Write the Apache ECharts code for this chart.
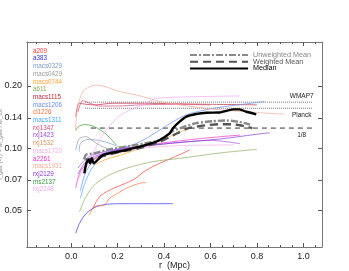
<!DOCTYPE html>
<html><head><meta charset="utf-8">
<script src="https://cdn.jsdelivr.net/npm/echarts@6/dist/echarts.min.js"></script>
<style>html,body{margin:0;padding:0;background:#fff}#c{width:349px;height:271px}</style>
</head><body><div id="c"></div>
<script>
// ---- data ----
const clusterNames = ['a209','a383','macs0329','macs0429','macs0744','a611','macs1115','macs1206','cl1226','macs1311','rxj1347','rxj1423','rxj1532','macs1720','a2261','macs1931','rxj2129','ms2137','rxj2248'];
const clusterColors = ['#ff3b3b','#3030e8','#7a9cc8','#9a9a9a','#ffa430','#8cae5a','#b8283c','#6a8cf0','#ff7040','#48a8ff','#d84a78','#a048e0','#d89858','#f4aee6','#f030c8','#f4aa98','#8838d8','#3a9a3a','#f0a8f0'];
// [r (Mpc), f_gas]
const a209     = [[0.093,0.051],[0.122,0.058],[0.16,0.062],[0.20,0.065],[0.266,0.070],[0.323,0.078],[0.381,0.0843],[0.44,0.090],[0.51,0.0978]];
const a383     = [[0.02,0.0386],[0.036,0.0431],[0.065,0.0482],[0.108,0.0519],[0.165,0.0535],[0.237,0.0537],[0.438,0.0537]];
const macs0329 = [[0.035,0.096],[0.04,0.105],[0.07,0.110],[0.12,0.109],[0.17,0.105],[0.21,0.101]];
const macs0429 = [[0.02,0.098],[0.035,0.111],[0.065,0.1135],[0.09,0.109],[0.12,0.1035],[0.17,0.098]];
const macs0744 = [[0.10,0.083],[0.15,0.088],[0.22,0.093],[0.30,0.100],[0.38,0.108],[0.44,0.116],[0.50,0.124]];
const a611     = [[0.036,0.049],[0.057,0.056],[0.093,0.065],[0.151,0.0726],[0.237,0.0797],[0.352,0.0859],[0.467,0.0891],[0.64,0.0946],[0.80,0.0986]];
const macs1115 = [[0.02,0.142],[0.035,0.165],[0.065,0.163],[0.10,0.162],[0.18,0.165],[0.30,0.165],[0.45,0.164],[0.60,0.163],[0.80,0.162]];
const macs1206 = [[0.04,0.062],[0.06,0.075],[0.10,0.088],[0.15,0.095],[0.22,0.100],[0.295,0.107],[0.37,0.120],[0.438,0.134],[0.496,0.145],[0.60,0.155],[0.70,0.161],[0.833,0.168]];
const cl1226   = [[0.079,0.0473],[0.10,0.0519],[0.144,0.0529],[0.165,0.057],[0.20,0.0603],[0.237,0.0638],[0.294,0.0674],[0.323,0.068]];
const macs1311 = [[0.04,0.057],[0.06,0.068],[0.09,0.080],[0.13,0.090],[0.18,0.097],[0.24,0.102]];
const rxj1347  = [[0.03,0.150],[0.05,0.170],[0.08,0.165],[0.12,0.160],[0.20,0.160],[0.30,0.162],[0.45,0.163],[0.60,0.162]];
const rxj1423  = [[0.03,0.080],[0.06,0.088],[0.10,0.093],[0.20,0.099],[0.30,0.102],[0.45,0.106],[0.60,0.109],[0.726,0.105]];
const rxj1532  = [[0.05,0.078],[0.08,0.086],[0.12,0.090],[0.18,0.094],[0.25,0.097]];
const macs1720 = [[0.03,0.070],[0.06,0.080],[0.10,0.087],[0.16,0.093],[0.25,0.098],[0.35,0.101],[0.50,0.103],[0.70,0.1035]];
const a2261    = [[0.02,0.064],[0.03,0.072],[0.05,0.080],[0.09,0.088],[0.15,0.094],[0.25,0.100],[0.40,0.106],[0.55,0.111],[0.726,0.1156]];
const macs1931 = [[0.019,0.122],[0.028,0.156],[0.05,0.188],[0.079,0.198],[0.108,0.202],[0.151,0.198],[0.208,0.188],[0.28,0.181],[0.338,0.174],[0.381,0.168],[0.467,0.162],[0.60,0.155],[0.75,0.150],[0.92,0.146]];
const rxj2129  = [[0.03,0.075],[0.06,0.085],[0.10,0.091],[0.20,0.098],[0.295,0.1015],[0.45,0.106],[0.64,0.1106],[0.797,0.1166],[0.855,0.1186]];
const ms2137   = [[0.02,0.122],[0.035,0.128],[0.06,0.130],[0.10,0.127],[0.15,0.117],[0.194,0.1035]];
const rxj2248  = [[0.079,0.0875],[0.136,0.1156],[0.194,0.139],[0.237,0.150],[0.294,0.159],[0.366,0.174],[0.50,0.177],[0.725,0.179]];
const clusterData = [a209,a383,macs0329,macs0429,macs0744,a611,macs1115,macs1206,cl1226,macs1311,rxj1347,rxj1423,rxj1532,macs1720,a2261,macs1931,rxj2129,ms2137,rxj2248];

const unweightedMean = [[0.055,0.088],[0.065,0.093],[0.095,0.094],[0.166,0.0985],[0.28,0.1035],[0.381,0.109],[0.424,0.1178],[0.438,0.121],[0.496,0.128],[0.539,0.132],[0.61,0.135],[0.67,0.136],[0.725,0.134],[0.77,0.130]];
const weightedMean   = [[0.062,0.0875],[0.122,0.0904],[0.208,0.0957],[0.295,0.100],[0.38,0.107],[0.438,0.115],[0.496,0.124],[0.539,0.127],[0.582,0.129],[0.639,0.1305],[0.697,0.1305],[0.725,0.129],[0.754,0.127],[0.78,0.125]];
const median         = [[0.057,0.0753],[0.065,0.0843],[0.076,0.0875],[0.082,0.0843],[0.089,0.0891],[0.097,0.0843],[0.136,0.0925],[0.237,0.0978],[0.323,0.1035],[0.381,0.1094],[0.424,0.1178],[0.438,0.1246],[0.467,0.1342],[0.496,0.142],[0.539,0.1462],[0.582,0.1484],[0.639,0.1487],[0.697,0.154],[0.725,0.154],[0.754,0.150],[0.797,0.1458]];

const refNames  = ['WMAP7','Planck','1/8'];
const refValues = [0.167, 0.156, 0.125];
const refStart  = [0.06, 0.06, 0.085];
const refEnd    = 1.04;

const xMajorTicks = [0.0,0.2,0.4,0.6,0.8,1.0];
const xMinorTicks = [-0.15,-0.1,-0.05,0.05,0.1,0.15,0.25,0.3,0.35,0.45,0.5,0.55,0.65,0.7,0.75,0.85,0.9,0.95,1.05];
const yTicks = [0.05,0.07,0.10,0.14,0.20];

// ---- chart ----
const chart = echarts.init(document.getElementById('c'), null, {renderer:'canvas'});
const FONT = 'Liberation Sans, Arial, sans-serif';
const xBase = {type:'value', min:-0.19, max:1.08, splitLine:{show:false},
  axisLine:{show:true, onZero:false, lineStyle:{color:'#777', width:1}}};
const xAxes = [
  Object.assign({}, xBase, {position:'bottom', axisTick:{show:true, inside:true, length:4, customValues:xMajorTicks, lineStyle:{color:'#555'}},
    axisLabel:{show:true, customValues:xMajorTicks, formatter:v=>v.toFixed(1), color:'#222', fontSize:9, fontFamily:FONT, margin:5},
    name:'r  (Mpc)', nameLocation:'middle', nameGap:14, nameMoveOverlap:false, nameTextStyle:{color:'#222', fontSize:9, fontFamily:FONT}}),
  Object.assign({}, xBase, {position:'bottom', offset:0, axisTick:{show:true, inside:true, length:2, customValues:xMinorTicks, lineStyle:{color:'#555'}}, axisLabel:{show:false}}),
  Object.assign({}, xBase, {position:'top', offset:0, axisTick:{show:true, inside:true, length:4, customValues:xMajorTicks, lineStyle:{color:'#555'}}, axisLabel:{show:false}}),
  Object.assign({}, xBase, {position:'top', offset:0, axisTick:{show:true, inside:true, length:2, customValues:xMinorTicks, lineStyle:{color:'#555'}}, axisLabel:{show:false}})
];
const yBase = {type:'log', min:0.0331, max:0.327, splitLine:{show:false}, minorTick:{show:false},
  axisLine:{show:true, onZero:false, lineStyle:{color:'#777', width:1}}};
const yAxes = [
  Object.assign({}, yBase, {position:'left', axisTick:{show:true, inside:true, length:4, customValues:yTicks, lineStyle:{color:'#555'}},
    axisLabel:{show:true, customValues:yTicks, formatter:v=>v.toFixed(2), color:'#222', fontSize:9, fontFamily:FONT, margin:5},
    name:'f_gas (<r) = M_gas / M_tot', nameLocation:'middle', nameGap:24, nameMoveOverlap:false, nameRotate:90, nameTextStyle:{color:'#888', fontSize:6, fontFamily:FONT}}),
  Object.assign({}, yBase, {position:'right', offset:0, axisTick:{show:true, inside:true, length:4, customValues:yTicks, lineStyle:{color:'#555'}}, axisLabel:{show:false}})
];

const series = [];
clusterNames.forEach((n,i)=>{
  series.push({name:n, type:'line', data:clusterData[i], showSymbol:false, symbol:'none', smooth:0.3,
    lineStyle:{color:clusterColors[i], width:0.7}, itemStyle:{color:clusterColors[i]}, silent:true, z:2});
});
refNames.forEach((n,i)=>{
  const style = i<2 ? 'dotted' : [5,4];
  series.push({name:n, type:'line', data:[[refStart[i],refValues[i]],{value:[refEnd,refValues[i]],
      label:{show:true, formatter:n, position: i===0?'top':'bottom', distance:1, offset:[-11, i===0?-1:2], fontSize:6.5, color:'#222', fontFamily:FONT}}],
    showSymbol:true, symbol:'circle', symbolSize:1, itemStyle:{color:'rgba(0,0,0,0)'}, lineStyle:{color: i<2?'#777':'#333', width:1, type:style}, silent:true, z:1});
});
series.push({name:'Unweighted Mean', type:'line', data:unweightedMean, symbol:'none', smooth:0.2,
  lineStyle:{color:'#8a8a8a', width:2.4, type:[7,2,2,2]}, itemStyle:{color:'#8a8a8a'}, z:5});
series.push({name:'Weighted Mean', type:'line', data:weightedMean, symbol:'none', smooth:0.2,
  lineStyle:{color:'#555', width:2.4, type:[8,5]}, itemStyle:{color:'#555'}, z:5});
series.push({name:'Median', type:'line', data:median, symbol:'none', smooth:0.15,
  lineStyle:{color:'#000', width:2.4}, itemStyle:{color:'#000'}, z:6});

chart.setOption({
  animation:false,
  grid:{left:27, top:42, right:27, bottom:24, containLabel:false, outerBoundsMode:'none'},
  xAxis:xAxes,
  yAxis:yAxes,
  legend:[
    {data:clusterNames.map((n,i)=>({name:n, textStyle:{color:clusterColors[i]}})), orient:'vertical', left:28, top:48, padding:0,
     icon:'none', itemWidth:0, itemHeight:6, itemGap:1.7, selectedMode:false, textStyle:{fontSize:6.3, fontFamily:FONT, padding:0}},
    {data:[{name:'Unweighted Mean', textStyle:{color:'#888'}},{name:'Weighted Mean', textStyle:{color:'#555'}},{name:'Median', textStyle:{color:'#000'}}],
     orient:'vertical', left:189, top:51.5, padding:0, itemWidth:58, itemHeight:8, itemGap:-0.3, itemStyle:{opacity:0},
     selectedMode:false, textStyle:{fontSize:7.2, fontFamily:FONT}}
  ],
  series:series
});
</script></body></html>
